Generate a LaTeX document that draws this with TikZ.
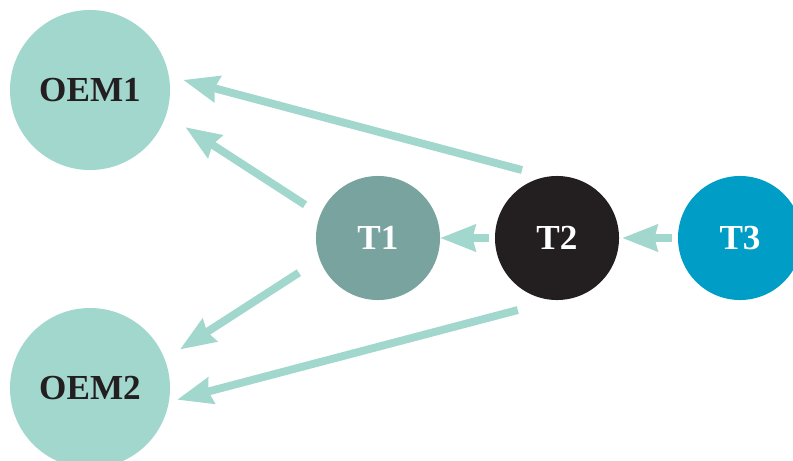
\documentclass[tikz,border=0pt]{standalone}
\usepackage{fontspec}
\setmainfont{Liberation Serif}
\usepackage{tikz}
\usetikzlibrary{arrows.meta}
\definecolor{oemcolor}{HTML}{A2D7CE}
\definecolor{tonecolor}{HTML}{78A39E}
\definecolor{ttwocolor}{HTML}{231F20}
\definecolor{tthreecolor}{HTML}{009EC6}

\begin{document}
\begin{tikzpicture}[x=0.025cm,y=-0.025cm,
  oem/.style={circle,fill=oemcolor,minimum size=4cm,inner sep=0pt,outer sep=0pt,text=ttwocolor,font=\fontsize{25}{30}\selectfont\bfseries},
  tier/.style={circle,minimum size=3.1cm,inner sep=0pt,outer sep=0pt,text=white,font=\fontsize{25}{30}\selectfont\bfseries},
  arr/.style={oemcolor,line width=5.6pt,-{Stealth[length=25pt,width=18.5pt,inset=2pt]}}]
\useasboundingbox (0,0) rectangle (793,460);
%% nodes
\node[oem] (oem1) at (90,90) {OEM1};
\node[oem] (oem2) at (90,388) {OEM2};
\node[tier,fill=tonecolor] (t1) at (378,238) {T1};
\node[tier,fill=ttwocolor] (t2) at (557,238) {T2};
\node[tier,fill=tthreecolor] (t3) at (740,238) {T3};
%% arrows
\draw[arr,shorten <=0.655cm,shorten >=0.37cm] (t2.99) -- (oem1.10);
\draw[arr,shorten <=0.46cm,shorten >=0.57cm] (t1.158) -- (oem1.342);
\draw[arr,shorten <=0.62cm,shorten >=0.45cm] (t1.200) -- (oem2.21);
\draw[arr,shorten <=0.985cm,shorten >=0.21cm] (t2.269) -- (oem2.350);
\draw[arr,shorten <=0.15cm] (t2.180) -- (t1.0);
\draw[arr,shorten <=0.15cm,shorten >=0.075cm] (t3.180) -- (t2.0);
\end{tikzpicture}
\end{document}
